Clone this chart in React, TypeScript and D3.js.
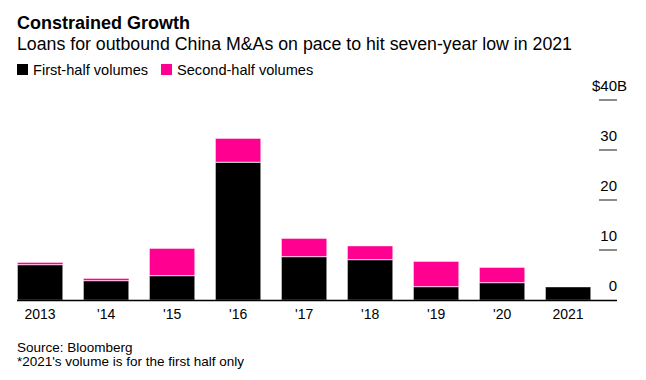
import React from "react";
import * as d3 from "d3";

const categories = ["2013", "'14", "'15", "'16", "'17", "'18", "'19", "'20", "2021"];
const firstHalf = [7.1, 3.9, 4.9, 27.6, 8.7, 8.1, 2.7, 3.5, 2.7];
const secondHalf = [0.5, 0.5, 5.5, 4.8, 3.7, 2.8, 5.1, 3.1, 0];
const yTicks = [0, 10, 20, 30, 40];
const legendLabels = ["First-half volumes", "Second-half volumes"];
const colors = ["#000000", "#ff0090"];

const FONT = "'Liberation Sans', Arial, Helvetica, sans-serif";

export default function App() {
  const W = 646, H = 380;
  const x = d3.scaleBand<string>().domain(categories).range([17, 17 + 66 * 8.7]).paddingInner(0.3).paddingOuter(0);
  const y = d3.scaleLinear().domain([0, 40]).range([300, 100]);
  const tickX0 = 599, tickX1 = 617;
  const yFont = 15;

  return (
    <svg width={W} height={H} style={{ position: "absolute", left: 0, top: 0 }} fontFamily={FONT}>
      <rect width={W} height={H} fill="#fff" />
      <text x={17} y={29} fontSize={18} fontWeight="bold" fill="#000">Constrained Growth</text>
      <text x={17} y={50} fontSize={17.5} fill="#000" textLength={555} lengthAdjust="spacingAndGlyphs">Loans for outbound China M&amp;As on pace to hit seven-year low in 2021</text>
      {legendLabels.map((l, i) => {
        const lx = i === 0 ? 17 : 161;
        return (
          <g key={l}>
            <rect x={lx} y={64} width={11} height={11} fill={colors[i]} />
            <text x={lx + 16} y={75} fontSize={14.6} fill="#000">{l}</text>
          </g>
        );
      })}
      {yTicks.map((t) => (
        <g key={t}>
          {t > 0 && <line x1={tickX0} x2={tickX1} y1={y(t)} y2={y(t)} stroke="#8c8c8c" strokeWidth={2} />}
          {t === 40 ? (
            <text x={tickX1 - 3 * 0.556 * yFont} y={y(t) - 9} fontSize={yFont} fill="#000">$40B</text>
          ) : (
            <text x={tickX1} y={y(t) - 9} fontSize={yFont} textAnchor="end" fill="#000">{t}</text>
          )}
        </g>
      ))}
      {categories.map((c, i) => {
        const bx = x(c)!;
        const bw = x.bandwidth();
        const y0 = y(0), y1 = y(firstHalf[i]), y2 = y(firstHalf[i] + secondHalf[i]);
        return (
          <g key={c}>
            <rect x={bx + 0.5} y={y1 + 0.5} width={bw - 1} height={Math.max(0, y0 - y1 - 0.5)} fill={colors[0]} stroke="rgba(255,255,255,0.4)" strokeWidth={1} />
            {secondHalf[i] > 0 && (
              <rect x={bx + 0.5} y={y2 + 0.5} width={bw - 1} height={Math.max(0, y1 - y2 - 0.5)} fill={colors[1]} stroke="rgba(255,255,255,0.4)" strokeWidth={1} />
            )}
            <text x={bx + bw / 2} y={319} fontSize={14} textAnchor="middle" fill="#000">{c}</text>
          </g>
        );
      })}
      <line x1={17} x2={tickX1} y1={y(0) + 0.5} y2={y(0) + 0.5} stroke="#000" strokeWidth={1.5} />
      <text x={17} y={352} fontSize={13.5} fill="#000">Source: Bloomberg</text>
      <text x={17} y={366} fontSize={13.5} fill="#000">*2021's volume is for the first half only</text>
    </svg>
  );
}
